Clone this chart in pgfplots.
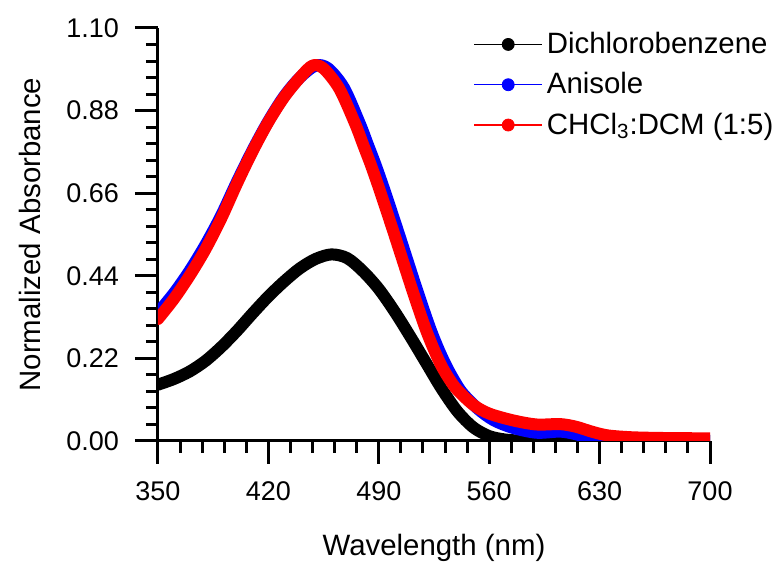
\documentclass[border=0pt]{standalone}
\usepackage{fontspec}
\setmainfont{Liberation Sans}
\usepackage{pgfplots}
\pgfplotsset{compat=1.18}

\pgfplotstableread{
wl A
350 0.150
360 0.165
370 0.185
380 0.213
390 0.250
400 0.293
410 0.340
420 0.385
430 0.425
440 0.460
450 0.485
460 0.497
470 0.487
480 0.452
490 0.405
500 0.345
510 0.278
520 0.208
530 0.138
540 0.078
550 0.036
560 0.013
570 0.004
580 0.001
590 0.000
620 0.000
660 0.000
700 0.000
}\dcb

\pgfplotstableread{
wl A
350 0.342
360 0.393
370 0.453
380 0.522
390 0.600
400 0.690
410 0.775
420 0.852
430 0.918
440 0.968
450 1.000
458 0.992
468 0.940
478 0.845
483 0.790
488 0.735
493 0.675
498 0.612
503 0.548
508 0.483
513 0.418
518 0.355
523 0.295
528 0.243
533 0.198
538 0.160
543 0.128
553 0.085
563 0.055
575 0.035
590 0.022
605 0.025
615 0.018
625 0.006
635 0.002
650 0.001
680 0.002
700 0.000
}\anis

\pgfplotstableread{
wl A
350 0.325
360 0.378
370 0.440
380 0.510
390 0.592
400 0.685
410 0.772
420 0.850
430 0.916
440 0.968
448 1.000
455 0.992
465 0.938
475 0.845
480 0.790
485 0.735
490 0.675
495 0.612
500 0.548
505 0.483
510 0.418
515 0.355
520 0.295
525 0.243
530 0.198
535 0.163
540 0.135
550 0.096
560 0.073
575 0.055
590 0.044
605 0.045
615 0.038
625 0.025
635 0.015
650 0.010
670 0.008
700 0.007
}\mix

\begin{document}
\begin{tikzpicture}
\useasboundingbox (-79pt,-62.5pt) rectangle (308.5pt,220.5pt);
\begin{axis}[
  scale only axis,
  width=276pt, height=206.5pt,
  xmin=350, xmax=700,
  ymin=0, ymax=1.10,
  xtick={350,420,...,700},
  ytick={0,0.22,0.44,0.66,0.88,1.10},
  minor tick num=4,
  axis lines*=left,
  tick align=outside,
  major tick length=11.5pt,
  minor tick length=6pt,
  axis line style={line width=1.5pt},
  tick style={black, line width=1.5pt},
  /pgf/number format/assume math mode=true,
  ticklabel style={font=\fontsize{13.5}{16}\selectfont},
  xticklabel shift=5.5pt,
  yticklabel shift=4.5pt,
  yticklabel style={/pgf/number format/.cd, fixed, fixed zerofill, precision=2},
  xlabel={Wavelength (nm)},
  ylabel={Normalized Absorbance},
  label style={font=\fontsize{14.7}{17}\selectfont},
  xlabel style={at={(axis description cs:0.5,0)}, anchor=center, yshift=-53.5pt},
  ylabel style={at={(axis description cs:-0.232,0.5)}, anchor=center},
  legend cell align=left,
  legend style={draw=none, fill=none, at={(axis description cs:0.56,1.01)}, anchor=north west,
    font=\fontsize{14.7}{17}\selectfont, row sep=4pt},
  legend image code/.code={
    \draw[#1, line width=0.7pt] (0pt,0pt) -- (34pt,0pt);
    \fill[#1] (17pt,0pt) circle (3pt);
  },
]
\addplot[black, line width=6pt, line join=round, line cap=round, smooth, forget plot] table[x=wl,y=A] {\dcb};
\addplot[blue, line width=6pt, line join=round, line cap=round, smooth, forget plot] table[x=wl,y=A] {\anis};
\addplot[red, line width=6pt, line join=round, line cap=round, smooth, forget plot] table[x=wl,y=A] {\mix};
\addlegendimage{black}
\addlegendentry{Dichlorobenzene}
\addlegendimage{blue}
\addlegendentry{Anisole}
\addlegendimage{red}
\addlegendentry{CHCl\textsubscript{3}:DCM (1:5)}
\end{axis}
\end{tikzpicture}
\end{document}
